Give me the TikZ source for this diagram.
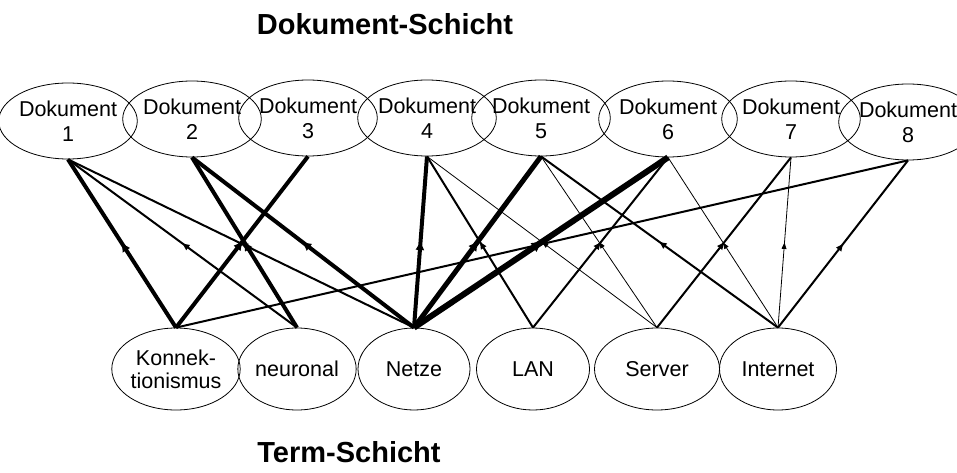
\documentclass[tikz,border=0pt]{standalone}
\usepackage{fontspec}
\setmainfont{Liberation Sans}
\usepackage{tikz}
\usetikzlibrary{shapes.geometric, arrows.meta, decorations.markings}

\begin{document}
\begin{tikzpicture}[x=1pt, y=-1pt,
            doc/.style={draw, ellipse, line width=0.8pt, inner sep=0pt, minimum width=116pt, minimum height=76pt, align=center, font=\fontsize{21.5}{25}\selectfont},
            term/.style={doc, minimum height=82pt, font=\fontsize{21.5}{23}\selectfont},
            title/.style={font=\fontsize{29}{32}\selectfont\bfseries},
            link/.style={postaction={decorate}, decoration={markings, mark=at position 0.5 with {\arrow{Triangle[length=6pt 0.5, width=4pt 1]}}}},
            thinlink/.style={link, line width=0.8pt},
            medlink/.style={link, line width=2pt},
            boldlink/.style={link, line width=4pt},
            heavylink/.style={link, line width=5pt},
            maxlink/.style={link, line width=6pt}]

            \useasboundingbox (0,0) rectangle (957,473);

            \node[title] (doctitle) at (385,24) {Dokument-Schicht};
            \node[title] (termtitle) at (349,452) {Term-Schicht};

            \node[doc, minimum width=117pt] (d1) at (68,121) {Dokument\\1};
            \node[doc, minimum width=115pt] (d2) at (192,119) {Dokument\\2};
            \node[doc, minimum width=111pt] (d3) at (308,118) {Dokument\\3};
            \node[doc] (d4) at (427,118) {Dokument\\4};
            \node[doc, minimum width=113pt] (d5) at (541,118) {Dokument\\5};
            \node[doc, minimum width=122pt] (d6) at (668,119) {Dokument\\6};
            \node[doc, minimum width=118pt] (d7) at (791,119) {Dokument\\7};
            \node[doc] (d8) at (908,122) {Dokument\\8};

            \node[term, minimum width=115pt] (konn) at (176,369) {Konnek-\\tionismus};
            \node[term, minimum width=103pt] (neuronal) at (297,369) {neuronal};
            \node[term, minimum width=112pt] (netze) at (414,369) {Netze};
            \node[term, minimum width=113pt] (lan) at (533,369) {LAN};
            \node[term, minimum width=125pt] (server) at (657,369) {Server};
            \node[term, minimum width=117pt] (internet) at (778,369) {Internet};

            \draw[boldlink] (konn.north) -- (d1.south);
            \draw[boldlink] (konn.north) -- (d3.south);
            \draw[medlink] (konn.north) -- (d8.south);
            \draw[medlink] (neuronal.north) -- (d1.south);
            \draw[boldlink] (neuronal.north) -- (d2.south);
            \draw[medlink] (netze.north) -- (d1.south);
            \draw[boldlink] (netze.north) -- (d2.south);
            \draw[boldlink] (netze.north) -- (d4.south);
            \draw[heavylink] (netze.north) -- (d5.south);
            \draw[maxlink] (netze.north) -- (d6.south);
            \draw[medlink] (lan.north) -- (d4.south);
            \draw[medlink] (lan.north) -- (d6.south);
            \draw[thinlink] (server.north) -- (d4.south);
            \draw[thinlink] (server.north) -- (d5.south);
            \draw[medlink] (server.north) -- (d7.south);
            \draw[medlink] (internet.north) -- (d5.south);
            \draw[thinlink] (internet.north) -- (d6.south);
            \draw[thinlink] (internet.north) -- (d7.south);
            \draw[medlink] (internet.north) -- (d8.south);
        \end{tikzpicture}
\end{document}
